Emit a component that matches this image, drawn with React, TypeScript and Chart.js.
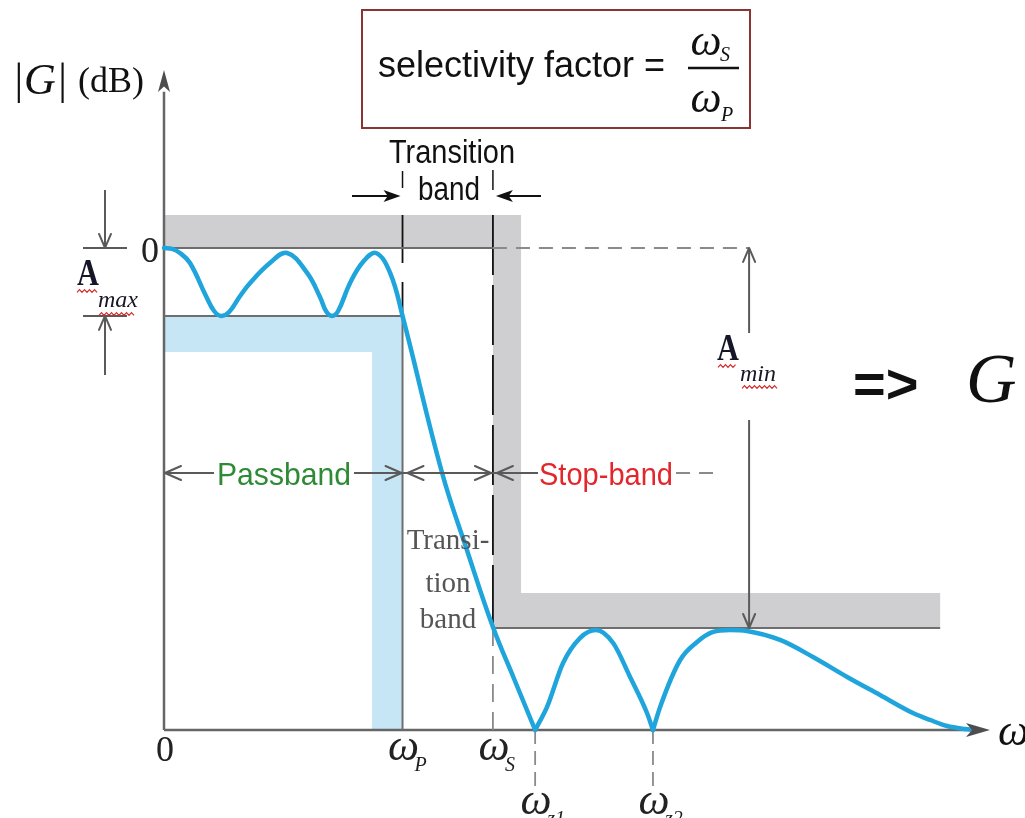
import React, { useEffect, useRef } from "react";
import { Chart, registerables } from "chart.js";

Chart.register(...registerables);

// ---- Frequencies (normalised, ω / ωP) and levels (dB) ----
const W_P = 1.0;
const W_S = 1.379;
const W_Z1 = 1.556;
const W_Z2 = 2.05;
const W_END = 3.463;
const W_AMIN = 2.453;
const W_STOP_END = 3.254;
const A_MAX = 7.05;
const A_MIN = 39.42;
const DB_MIN = -50;
const DB_TOP = 18.46;
const BAND_TOP = 3.42;

// ---- Magnitude response: passband ripple ----
const passW = [0, 0.034, 0.067, 0.109, 0.176, 0.21, 0.239, 0.273, 0.319, 0.361, 0.444, 0.516, 0.6, 0.654, 0.679, 0.704, 0.73, 0.78, 0.834, 0.889, 0.948, 1.0, 1.166, 1.27, 1.379, 1.468, 1.556];
const passDb = [0, -0.1, -0.52, -1.56, -4.98, -6.54, -7.05, -6.64, -4.98, -3.63, -1.56, -0.52, -2.59, -5.08, -6.54, -7.05, -6.54, -3.63, -1.45, -0.52, -2.59, -7.05, -23.34, -31.33, -39.32, -44.71, -50];

// ---- Stopband lobes ----
const lobe1W = [1.556, 1.606, 1.673, 1.744, 1.811, 1.883, 1.954, 2.025, 2.05];
const lobe1Db = [-50, -47.61, -43.05, -40.46, -39.63, -40.98, -44.5, -48.24, -50];
const lobe2W = [2.05, 2.08, 2.164, 2.235, 2.302, 2.373, 2.444, 2.583, 2.721, 2.864, 3.002, 3.14, 3.212, 3.283, 3.358, 3.4];
const lobe2Db = [-50, -47.61, -42.74, -40.87, -39.83, -39.63, -39.73, -40.66, -42.43, -44.5, -46.37, -48.24, -48.96, -49.59, -49.9, -50];

// ---- Specification bands ----
const grayBandW = [0, 1.497, 1.497, W_STOP_END, W_STOP_END, W_S, W_S, 0];
const grayBandDb = [BAND_TOP, BAND_TOP, -35.79, -35.79, -A_MIN, -A_MIN, 0, 0];
const blueBandW = [0, W_P, W_P, 0.872, 0.872, 0];
const blueBandDb = [-A_MAX, -A_MAX, DB_MIN, DB_MIN, -10.79, -10.79];

// ---- x tick labels ----
const tickW = [0, W_P, W_S, W_Z1, W_Z2];
const tickMain = ["0", "ω", "ω", "ω", "ω"];
const tickSub = ["", "P", "S", "z1", "z2"];

const SERIF = '"Liberation Serif", "Times New Roman", serif';
const SANS = '"Liberation Sans", Arial, sans-serif';
const CURVE = "#1fa5dc";
const REF = "#6e6e6e";
const AXIS = "#666666";
const DASHG = "#8a8a8a";

const pts = (w: number[], d: number[]) => w.map((x, i) => ({ x, y: d[i] }));

function txt(ctx: CanvasRenderingContext2D, s: string, x: number, y: number, font: string, color: string, align: CanvasTextAlign = "left", maxW?: number, sx = 1) {
  ctx.save();
  ctx.font = font;
  ctx.fillStyle = color;
  ctx.textAlign = align;
  ctx.textBaseline = "alphabetic";
  ctx.translate(x, y);
  ctx.scale(sx, 1);
  if (maxW) ctx.fillText(s, 0, 0, maxW);
  else ctx.fillText(s, 0, 0);
  ctx.restore();
}

function seg(ctx: CanvasRenderingContext2D, x1: number, y1: number, x2: number, y2: number, color: string, w: number, dash: number[] = []) {
  ctx.save();
  ctx.strokeStyle = color;
  ctx.lineWidth = w;
  ctx.setLineDash(dash);
  ctx.beginPath();
  ctx.moveTo(x1, y1);
  ctx.lineTo(x2, y2);
  ctx.stroke();
  ctx.restore();
}

function chevron(ctx: CanvasRenderingContext2D, tx: number, ty: number, ang: number, color: string, L = 16, H = 7) {
  const c = Math.cos(ang), s = Math.sin(ang);
  const bx = tx - c * L, by = ty - s * L;
  ctx.save();
  ctx.strokeStyle = color;
  ctx.lineWidth = 2;
  ctx.lineCap = "round";
  ctx.lineJoin = "round";
  ctx.beginPath();
  ctx.moveTo(bx - s * H, by + c * H);
  ctx.lineTo(tx, ty);
  ctx.lineTo(bx + s * H, by - c * H);
  ctx.stroke();
  ctx.restore();
}

function filledArrow(ctx: CanvasRenderingContext2D, tx: number, ty: number, ang: number, L: number, H: number, color: string) {
  const c = Math.cos(ang), s = Math.sin(ang);
  const bx = tx - c * L, by = ty - s * L;
  ctx.save();
  ctx.fillStyle = color;
  ctx.beginPath();
  ctx.moveTo(tx, ty);
  ctx.lineTo(bx - s * H, by + c * H);
  ctx.lineTo(tx - c * L * 0.75, ty - s * L * 0.75);
  ctx.lineTo(bx + s * H, by - c * H);
  ctx.closePath();
  ctx.fill();
  ctx.restore();
}

function squiggle(ctx: CanvasRenderingContext2D, x0: number, x1: number, y: number) {
  ctx.save();
  ctx.strokeStyle = "#d42a2a";
  ctx.lineWidth = 1.2;
  ctx.beginPath();
  let k = 0;
  for (let x = x0; x <= x1; x += 2.5, k++) {
    const yy = y + (k % 2 ? -1.3 : 1.3);
    if (k === 0) ctx.moveTo(x, yy);
    else ctx.lineTo(x, yy);
  }
  ctx.stroke();
  ctx.restore();
}

const overlay = {
  id: "overlay",
  afterDatasetsDraw(chart: any) {
    const ctx: CanvasRenderingContext2D = chart.ctx;
    const X = (v: number) => chart.scales.x.getPixelForValue(v);
    const Y = (v: number) => chart.scales.y.getPixelForValue(v);
    const x0 = X(0), xP = X(W_P), xS = X(W_S);
    const y0 = Y(0), yAmax = Y(-A_MAX), yAmin = Y(-A_MIN), yBot = Y(DB_MIN);
    const G = "#5a5a5a";

    // axis arrowheads
    filledArrow(ctx, X(W_END), yBot, 0, 24, 7, "#4e4e4e");
    filledArrow(ctx, x0, Y(DB_TOP), -Math.PI / 2, 22, 6, "#4e4e4e");

    // y-axis title
    txt(ctx, "|G|", 12, 94, `italic 44px ${SERIF}`, "#111");
    txt(ctx, "(dB)", 78, 92, `36px ${SERIF}`, "#111");

    // selectivity box
    ctx.save();
    ctx.strokeStyle = "#8a3333";
    ctx.lineWidth = 2;
    ctx.strokeRect(362, 10, 388, 118);
    ctx.restore();
    txt(ctx, "selectivity factor =", 378, 77, `36px ${SANS}`, "#111", "left", 291);
    txt(ctx, "ω", 706, 55, `italic 44px ${SERIF}`, "#111", "center");
    txt(ctx, "S", 720, 61, `italic 20px ${SERIF}`, "#111");
    seg(ctx, 688, 68, 739, 68, "#111", 2.5);
    txt(ctx, "ω", 706, 112, `italic 44px ${SERIF}`, "#111", "center");
    txt(ctx, "P", 721, 121, `italic 20px ${SERIF}`, "#111");

    // transition band label at top
    txt(ctx, "Transition", 452, 163, `34px ${SANS}`, "#111", "center", 126);
    txt(ctx, "band", 449, 200, `34px ${SANS}`, "#111", "center", 62);
    seg(ctx, xP, 171, xP, 188, "#111", 1.5);
    seg(ctx, xS, 170, xS, 190, "#111", 1.5);
    seg(ctx, 352, 196, 392, 196, "#111", 2);
    filledArrow(ctx, xP - 2, 196, 0, 17, 6, "#111");
    seg(ctx, 541, 196, 503, 196, "#111", 2);
    filledArrow(ctx, xS + 3, 196, Math.PI, 17, 6, "#111");

    // y tick "0"
    txt(ctx, "0", 150, 262, `36px ${SERIF}`, "#222", "center");

    // A_max bracket
    seg(ctx, 83, y0, 127, y0, G, 2);
    seg(ctx, 83, yAmax, 127, yAmax, G, 2);
    seg(ctx, 105, 190, 105, y0 - 2, G, 2);
    chevron(ctx, 105, y0, Math.PI / 2, G, 14, 6);
    seg(ctx, 105, 375, 105, yAmax + 2, G, 2);
    chevron(ctx, 105, yAmax, -Math.PI / 2, G, 14, 6);
    txt(ctx, "A", 88, 285, `bold 38px ${SERIF}`, "#161628", "center", undefined, 0.8);
    txt(ctx, "max", 98, 307, `italic 24px ${SERIF}`, "#161628", "left", 40);
    squiggle(ctx, 77, 97, 291);
    squiggle(ctx, 99, 134, 314);

    // A_min arrow
    const xA = X(W_AMIN);
    seg(ctx, xA, y0 + 2, xA, 333, G, 2);
    chevron(ctx, xA, y0, -Math.PI / 2, G, 14, 6);
    seg(ctx, xA, 420, xA, yAmin - 2, G, 2);
    chevron(ctx, xA, yAmin, Math.PI / 2, G, 14, 6);
    txt(ctx, "A", 728, 360, `bold 38px ${SERIF}`, "#161628", "center", undefined, 0.8);
    txt(ctx, "min", 740, 381, `italic 24px ${SERIF}`, "#161628", "left", 38);
    squiggle(ctx, 718, 737, 366);
    squiggle(ctx, 742, 777, 387);

    // band dimension arrows
    const yb = 473;
    seg(ctx, x0, yb, 214, yb, G, 2);
    chevron(ctx, x0 + 1, yb, Math.PI, G);
    txt(ctx, "Passband", 284, 485, `32px ${SANS}`, "#2f8a35", "center", 134);
    seg(ctx, 354, yb, xP, yb, G, 2);
    chevron(ctx, xP - 1, yb, 0, G);
    seg(ctx, xP, yb, xS, yb, G, 2);
    chevron(ctx, xP + 5, yb, Math.PI, G);
    chevron(ctx, xS - 2, yb, 0, G);
    seg(ctx, xS, yb, 538, yb, G, 2);
    chevron(ctx, xS + 4, yb, Math.PI, G);
    txt(ctx, "Stop-band", 606, 485, `32px ${SANS}`, "#e3262b", "center", 134);
    seg(ctx, 676, yb, 722, yb, DASHG, 2, [14, 9]);

    // transition band text (inside)
    txt(ctx, "Transi-", 448, 549, `29px ${SERIF}`, "#555", "center", 84);
    txt(ctx, "tion", 448, 592, `29px ${SERIF}`, "#555", "center");
    txt(ctx, "band", 448, 628, `29px ${SERIF}`, "#555", "center");

    // right side
    txt(ctx, "=>", 853, 403, `bold 56px ${SANS}`, "#111");
    txt(ctx, "G", 966, 402, `italic 70px ${SERIF}`, "#111");
    txt(ctx, "ω", 998, 745, `italic 44px ${SERIF}`, "#111");

    // x tick labels
    tickW.forEach((w, i) => {
      const x = X(w);
      if (tickMain[i] === "0") {
        txt(ctx, "0", x + 1, 761, `36px ${SERIF}`, "#222", "center");
      } else {
        const base = i >= 3 ? 814 : 760;
        txt(ctx, tickMain[i], x + 1, base, `italic 44px ${SERIF}`, "#222", "center");
        txt(ctx, tickSub[i], x + 12, base + 11, `italic 20px ${SERIF}`, "#222");
      }
    });
  },
};

function refLine(label: string, w: number[], d: number[], color: string, width: number, dash: number[] = [], order = 1) {
  return {
    label,
    data: pts(w, d),
    borderColor: color,
    borderWidth: width,
    borderDash: dash,
    pointRadius: 0,
    fill: false,
    tension: 0,
    clip: false,
    order,
  };
}

export default function App() {
  const ref = useRef<HTMLCanvasElement>(null);

  useEffect(() => {
    if (!ref.current) return;
    const curveBase = {
      borderColor: CURVE,
      borderWidth: 4.5,
      borderCapStyle: "round",
      borderJoinStyle: "round",
      pointRadius: 0,
      fill: false,
      clip: false,
      order: 0,
    };
    const smooth = { ...curveBase, tension: 0.4 };
    const mono = { ...curveBase, cubicInterpolationMode: "monotone" };
    const chart = new Chart(ref.current, {
      type: "line",
      data: {
        datasets: [
          { label: "passband", data: pts(passW, passDb), ...smooth },
          { label: "lobe1", data: pts(lobe1W, lobe1Db), ...mono },
          { label: "lobe2", data: pts(lobe2W, lobe2Db), ...mono },
          refLine("zero", [0, W_S], [0, 0], REF, 2),
          refLine("zeroDash", [W_S, W_AMIN], [0, 0], DASHG, 2, [14, 9]),
          refLine("amax", [0, W_P], [-A_MAX, -A_MAX], REF, 2),
          refLine("wpGray", [W_P, W_P], [-A_MAX, DB_MIN], REF, 2),
          refLine("wpBlack", [W_P, W_P], [BAND_TOP, -A_MAX], "#111", 1.8, [48, 19]),
          refLine("wsBlack", [W_S, W_S], [BAND_TOP, -A_MIN], "#111", 1.8, [60, 10]),
          refLine("wsGray", [W_S, W_S], [-A_MIN, DB_MIN], DASHG, 1.8, [18, 10]),
          refLine("stopLine", [W_S, W_STOP_END], [-A_MIN, -A_MIN], REF, 2),
          refLine("z1", [W_Z1, W_Z1], [DB_MIN, -56.5], DASHG, 1.8, [14, 7]),
          refLine("z2", [W_Z2, W_Z2], [DB_MIN, -56.5], DASHG, 1.8, [14, 7]),
          refLine("xAxis", [0, 3.4], [DB_MIN, DB_MIN], AXIS, 2.5, [], 2),
          refLine("yAxis", [0, 0], [DB_MIN, 16.2], AXIS, 2.5, [], 2),
          {
            label: "grayBand",
            data: pts(grayBandW, grayBandDb),
            fill: "shape",
            backgroundColor: "#cfcfd1",
            borderColor: "rgba(0,0,0,0)",
            borderWidth: 0,
            pointRadius: 0,
            tension: 0,
            clip: false,
            order: 3,
          },
          {
            label: "blueBand",
            data: pts(blueBandW, blueBandDb),
            fill: "shape",
            backgroundColor: "#c6e6f6",
            borderColor: "rgba(0,0,0,0)",
            borderWidth: 0,
            pointRadius: 0,
            tension: 0,
            clip: false,
            order: 3,
          },
        ] as any,
      },
      options: {
        responsive: false,
        animation: false,
        events: [],
        layout: { padding: { left: 164, right: 35, top: 70, bottom: 88 } },
        plugins: { legend: { display: false }, tooltip: { enabled: false } },
        scales: {
          x: { type: "linear", min: 0, max: W_END, display: false },
          y: { type: "linear", min: DB_MIN, max: DB_TOP, display: false },
        },
      },
      plugins: [overlay],
    } as any);
    return () => chart.destroy();
  }, []);

  return (
    <div style={{ position: "absolute", left: 0, top: 0, width: 1025, height: 818, background: "#fff" }}>
      <canvas ref={ref} width={1025} height={818} style={{ display: "block" }} />
    </div>
  );
}
